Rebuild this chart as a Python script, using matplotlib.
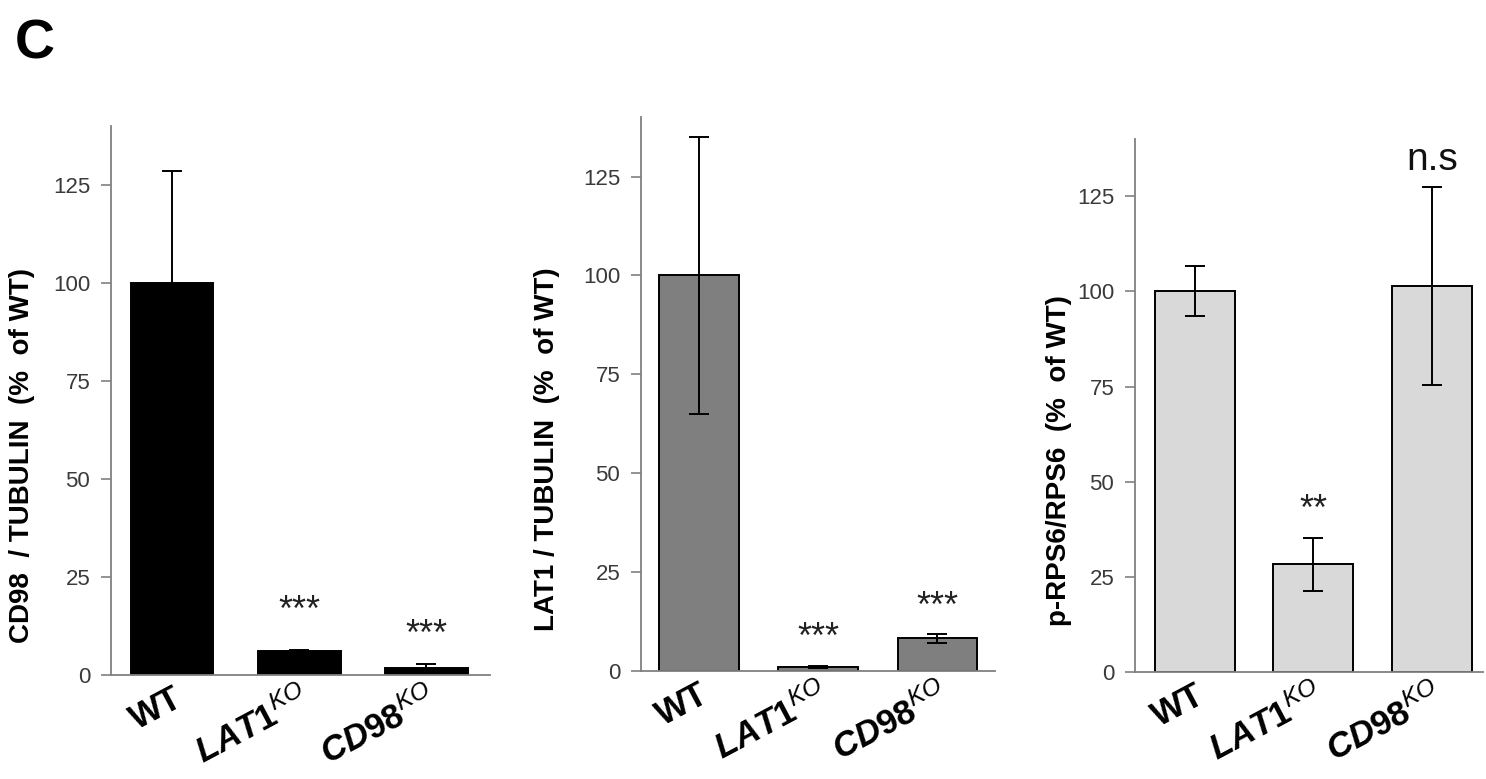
import matplotlib
matplotlib.use("Agg")
import matplotlib.pyplot as plt
import matplotlib.transforms as mtransforms

plt.rcParams['font.family'] = ['Liberation Sans', 'DejaVu Sans']
plt.rcParams['mathtext.fontset'] = 'custom'
plt.rcParams['mathtext.rm'] = 'Liberation Sans:bold'
plt.rcParams['mathtext.bf'] = 'Liberation Sans:bold'
plt.rcParams['mathtext.it'] = 'Liberation Sans:italic:bold'
plt.rcParams['mathtext.sf'] = 'Liberation Sans:italic'

# data
groups = ['WT', 'LAT1', 'CD98']
group_labels = ['WT',
                r'$\mathit{LAT1}^{\mathsf{KO}}$',
                r'$\mathit{CD98}^{\mathsf{KO}}$']

cd98_mean = [100, 6.1, 1.8]
cd98_err = [28.5, 0.3, 1.0]
cd98_sig = ['', '***', '***']
cd98_sig_y = [0, 16.2, 10.2]

lat1_mean = [100, 1.0, 8.3]
lat1_err = [35, 0.3, 1.1]
lat1_sig = ['', '***', '***']
lat1_sig_y = [0, 8.2, 16.0]

rps6_mean = [100, 28.3, 101.5]
rps6_err = [6.6, 7.0, 26]
rps6_sig = ['', '**', 'n.s']
rps6_sig_y = [0, 42.5, 132]

yticks = [0, 25, 50, 75, 100, 125]

fig = plt.figure(figsize=(14.86, 7.79), dpi=100)

panels = [
    # rect, means, errs, sigs, sig_y, color, ylabel, xlim, width, label x/y
    ([0.0747, 0.1335, 0.255, 0.7047], cd98_mean, cd98_err, cd98_sig, cd98_sig_y,
     'black', 'CD98  / TUBULIN  (%  of WT)', (-0.48, 2.5), 0.65, -0.20, 0.40),
    ([0.4314, 0.1386, 0.238, 0.711], lat1_mean, lat1_err, lat1_sig, lat1_sig_y,
     '#7f7f7f', 'LAT1 / TUBULIN  (%  of WT)', (-0.485, 2.48), 0.67, -0.23, 0.40),
    ([0.7638, 0.1374, 0.234, 0.684], rps6_mean, rps6_err, rps6_sig, rps6_sig_y,
     '#d9d9d9', 'p-RPS6/RPS6  (%  of WT)', (-0.506, 2.43), 0.675, -0.18, 0.396),
]

x = [0, 1, 2]
for rect, means, errs, sigs, sig_y, color, ylabel, xlim, width, lx, ly in panels:
    ax = fig.add_axes(rect)
    ax.bar(x, means, width, color=color, edgecolor='black', linewidth=1.4, zorder=2)
    ax.errorbar(x, means, yerr=errs, fmt='none', ecolor='black',
                elinewidth=1.4, capsize=7, capthick=1.4, zorder=3)
    for xi, s, sy in zip(x, sigs, sig_y):
        if not s:
            continue
        if s == 'n.s':
            ax.text(xi, sy, s, ha='center', va='baseline', fontsize=28, color='#111111')
        else:
            ax.text(xi, sy, s, ha='center', va='center', fontsize=26, color='#222222')
    ax.set_ylim(0, 140)
    ax.set_xlim(*xlim)
    ax.set_yticks(yticks)
    ax.set_xticks(x)
    ax.set_xticklabels(group_labels, rotation=28, ha='right',
                       rotation_mode='anchor', fontsize=25, fontweight='bold')
    offset = mtransforms.ScaledTranslation(9 / 100, 0, fig.dpi_scale_trans)
    for lab in ax.get_xticklabels():
        lab.set_transform(lab.get_transform() + offset)
    ax.tick_params(axis='x', length=0, pad=5)
    ax.tick_params(axis='y', length=7, width=1.2, color='#808080',
                   labelsize=16, labelcolor='#3a3a3a', pad=8)
    for side in ['top', 'right']:
        ax.spines[side].set_visible(False)
    for side in ['left', 'bottom']:
        ax.spines[side].set_color('#808080')
        ax.spines[side].set_linewidth(1.3)
    ax.set_ylabel(ylabel, fontsize=20, fontweight='bold')
    ax.yaxis.set_label_coords(lx, ly)

fig.text(0.010, 0.9255, 'C', fontsize=40, fontweight='bold', va='baseline')

fig.savefig('out.png', dpi=100)
